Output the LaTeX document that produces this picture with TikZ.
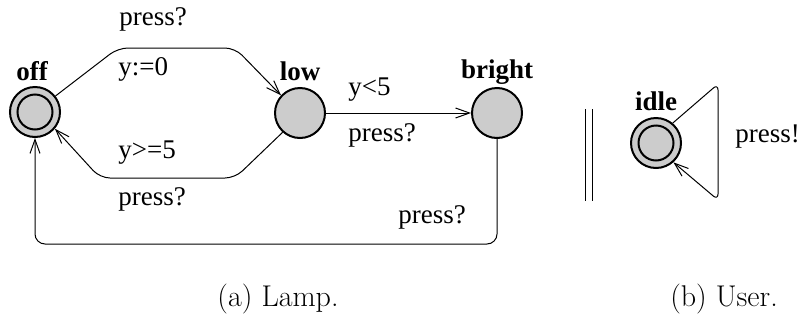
\documentclass[tikz,border=0pt]{standalone}
\usepackage{fontspec}
\newfontfamily\tnr{Liberation Serif}
\usetikzlibrary{arrows.meta}
\begin{document}
\begin{tikzpicture}[x=0.5pt,y=-0.5pt,
  loc/.style={circle,draw,line width=1pt,fill=black!20,minimum size=25pt,inner sep=0pt},
  innerloc/.style={circle,draw,line width=1pt,fill=black!20,minimum size=17.5pt,inner sep=0pt},
  tr/.style={line width=0.5pt,rounded corners=5pt,-{Straight Barb[length=7pt,width=5pt]}},
  lbl/.style={anchor=base west,inner sep=0pt,font=\tnr\fontsize{13.5}{16}\selectfont},
  locname/.style={anchor=base,inner sep=0pt,font=\tnr\bfseries\fontsize{13.5}{16}\selectfont},
  captext/.style={anchor=base,inner sep=0pt,font=\fontsize{15}{18}\selectfont},
  sepline/.style={line width=0.5pt}]
\useasboundingbox (0,0) rectangle (801,327);
% locations
\node[loc] (off) at (35,112) {};
\node[innerloc] (offin) at (off.center) {};
\node[loc] (low) at (300,113) {};
\node[loc] (bright) at (497,113) {};
\node[loc] (idle) at (656,143) {};
\node[innerloc] (idlein) at (idle.center) {};
% location names
\node[locname] (offname) at (32,80) {off};
\node[locname] (lowname) at (300,80) {low};
\node[locname] (brightname) at (497,78) {bright};
\node[locname] (idlename) at (656,110) {idle};
% transitions
\coordinate (u1) at (118,48);
\coordinate (u2) at (235,48);
\coordinate (l1) at (235,178);
\coordinate (l2) at (100,178);
\coordinate (yb) at (0,244);
\draw[tr] (off.38) -- (u1) -- (u2) -- (low.137);
\draw[tr] (low.228) -- (l1) -- (l2) -- (off.-40);
\draw[tr] (low) -- (bright);
\draw[tr] (bright.south) -- (bright.south |- yb) -- (off.south |- yb) -- (off.south);
\coordinate (s1) at (718,84);
\coordinate (s2) at (718,200);
\draw[tr,rounded corners=3pt] (idle.50) -- (s1) -- (s2) -- (idle.-48);
% labels
\node[lbl] (t1) at (119,25) {press?};
\node[lbl] (t2) at (118,75) {y:=0};
\node[lbl] (t3) at (118,158) {y>=5};
\node[lbl] (t4) at (118,205) {press?};
\node[lbl] (t5) at (348,95) {y<5};
\node[lbl] (t6) at (348,141) {press?};
\node[lbl] (t7) at (398,223) {press?};
\node[lbl] (t8) at (735,142) {press!};
% parallel composition
\draw[sepline] (585,109) -- (585,201);
\draw[sepline] (592,109) -- (592,201);
% captions
\node[captext] (capa) at (278,306) {(a) Lamp.};
\node[captext] (capb) at (724,306) {(b) User.};
\end{tikzpicture}
\end{document}
